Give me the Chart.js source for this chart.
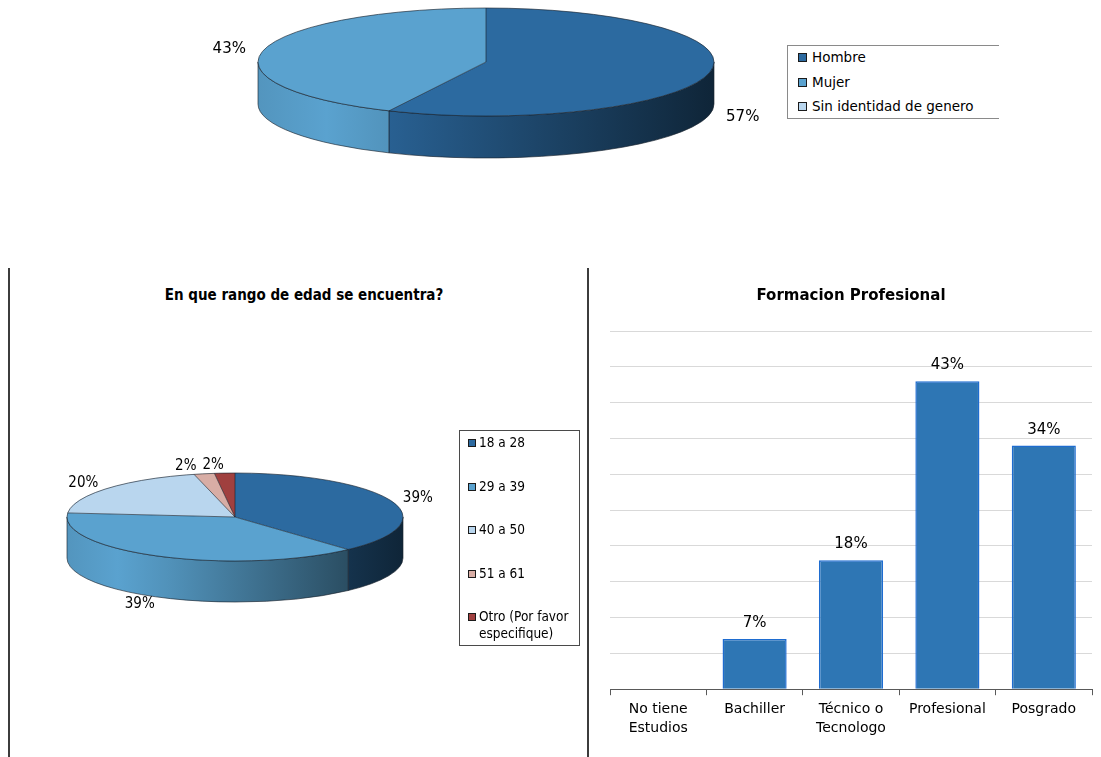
<!DOCTYPE html>
<html>
<head>
<meta charset="utf-8">
<script src="https://cdn.jsdelivr.net/npm/chart.js@4.4.1/dist/chart.umd.min.js"></script>
<style>
html, body { margin: 0; padding: 0; background: #fff; overflow: hidden; }
body { width: 1101px; height: 757px; position: relative; font-family: "DejaVu Sans", Verdana, sans-serif; }
canvas { position: absolute; }
.sep { position: absolute; top: 268px; width: 2px; height: 489px; background: #3c3c3c; }
.legend { position: absolute; background: #fff; box-sizing: border-box; }
.legend .row { position: absolute; display: flex; align-items: flex-start; }
.legend .sw { flex: none; box-sizing: border-box; border: 1px solid #1b1b1b; }
#generoLegend { left: 787px; top: 45px; width: 212px; height: 74px; border: 1px solid #8a8a8a; border-right: none; font-size: 13.5px; }
#generoLegend .row { left: 10px; line-height: 18px; }
#generoLegend .sw { width: 9px; height: 9px; margin: 5px 5px 0 0; }
#edadLegend { left: 459px; top: 430px; width: 121px; height: 216px; border: 1px solid #4a4a4a; font-family: "DejaVu Sans Condensed", "DejaVu Sans", sans-serif; font-size: 13.5px; }
#edadLegend .row { left: 8px; line-height: 17px; }
#edadLegend .sw { width: 8px; height: 8px; margin: 5px 3px 0 0; }
#edadLegend .tx { width: 104px; }
#edadTitle { position: absolute; left: 104px; width: 400px; top: 286px; text-align: center; font-family: "DejaVu Sans Condensed", "DejaVu Sans", sans-serif; font-weight: bold; font-size: 15px; }
</style>
</head>
<body>
<canvas id="generoChart" width="980" height="230" style="left:0;top:0"></canvas>
<div class="legend" id="generoLegend"></div>

<div class="sep" style="left:8px"></div>
<div class="sep" style="left:587px"></div>

<div id="edadTitle">En que rango de edad se encuentra?</div>
<canvas id="edadChart" width="470" height="240" style="left:0;top:400px"></canvas>
<div class="legend" id="edadLegend"></div>

<canvas id="formacionChart" width="506" height="489" style="left:595px;top:268px"></canvas>

<script>
// Genero
var generoLabels = ['Hombre', 'Mujer', 'Sin identidad de genero'];
var generoValues = [57, 43, 0];
var generoColors = ['#2C6AA0', '#5AA2CF', '#B9D6EE'];

// Rango de edad
var edadLabels = ['18 a 28', '29 a 39', '40 a 50', '51 a 61', 'Otro (Por favor especifique)'];
var edadValues = [39, 39, 20, 2, 2];
var edadColors = ['#2C6AA0', '#5AA2CF', '#B9D6EE', '#D8ADA5', '#A0403F'];

// Formacion profesional
var formacionLabels = [['No tiene', 'Estudios'], 'Bachiller', ['Técnico o', 'Tecnologo'], 'Profesional', 'Posgrado'];
var formacionValues = [0, 7, 18, 43, 34];

Chart.defaults.font.family = '"DejaVu Sans", Verdana, sans-serif';
Chart.defaults.color = '#000';

function shade(hex, f) {
    var n = parseInt(hex.slice(1), 16);
    var r = Math.round(((n >> 16) & 255) * f);
    var g = Math.round(((n >> 8) & 255) * f);
    var b = Math.round((n & 255) * f);
    return 'rgb(' + r + ',' + g + ',' + b + ')';
}

// tilted pie: side walls under the slices, flattened top face, labels outside
var pie3d = {
    id: 'pie3d',
    beforeDatasetsDraw: function (chart, args, opts) {
        var ctx = chart.ctx;
        var arcs = chart.getDatasetMeta(0).data;
        var colors = chart.data.datasets[0].backgroundColor;
        var cx = arcs[0].x, cy = arcs[0].y, rx = arcs[0].outerRadius, ry = rx * opts.tilt;

        arcs.forEach(function (arc, i) {
            var s = Math.max(arc.startAngle, 0), e = Math.min(arc.endAngle, Math.PI);
            if (e - s <= 0) {
                return;
            }
            var grad = ctx.createLinearGradient(cx - rx, 0, cx + rx, 0);
            grad.addColorStop(0, shade(colors[i], 0.92));
            grad.addColorStop(0.15, shade(colors[i], 1));
            grad.addColorStop(0.3, shade(colors[i], 0.9));
            grad.addColorStop(1, shade(colors[i], 0.35));
            ctx.beginPath();
            ctx.ellipse(cx, cy, rx, ry, 0, s, e);
            ctx.ellipse(cx, cy + opts.depth, rx, ry, 0, e, s, true);
            ctx.closePath();
            ctx.fillStyle = grad;
            ctx.fill();
            ctx.lineWidth = 0.8;
            ctx.strokeStyle = opts.edge;
            ctx.stroke();
        });

        ctx.save();
        ctx.translate(cx, cy);
        ctx.scale(1, opts.tilt);
        ctx.translate(-cx, -cy);
    },
    afterDatasetsDraw: function (chart, args, opts) {
        var ctx = chart.ctx;
        ctx.restore();

        var arcs = chart.getDatasetMeta(0).data;
        var values = chart.data.datasets[0].data;
        var cx = arcs[0].x, cy = arcs[0].y, rx = arcs[0].outerRadius, ry = rx * opts.tilt;

        ctx.save();
        ctx.lineWidth = 0.8;
        ctx.strokeStyle = opts.edge;
        ctx.beginPath();
        ctx.ellipse(cx, cy, rx, ry, 0, 0, 2 * Math.PI);
        arcs.forEach(function (arc) {
            if (arc.circumference > 0) {
                ctx.moveTo(cx, cy);
                ctx.lineTo(cx + rx * Math.cos(arc.startAngle), cy + ry * Math.sin(arc.startAngle));
            }
        });
        ctx.stroke();

        // label boxes, pushed apart sideways when two of them touch
        ctx.font = opts.font;
        var boxes = [];
        arcs.forEach(function (arc, i) {
            if (!values[i]) {
                return;
            }
            var mid = (arc.startAngle + arc.endAngle) / 2;
            var c = Math.cos(mid), s = Math.sin(mid);
            var text = values[i] + '%';
            var w = ctx.measureText(text).width;
            var ax = cx + (rx + opts.gap) * c;
            var left = c > 0.05 ? ax : (c < -0.05 ? ax - w : ax - w / 2);
            boxes.push({
                text: text,
                left: left,
                w: w,
                y: cy + (ry + opts.gapY) * s + (s > 0 ? opts.depth : 0),
                dir: c < 0 ? -1 : 1
            });
        });
        for (var i = boxes.length - 2; i >= 0; i--) {
            var a = boxes[i], b = boxes[i + 1];
            if (Math.abs(a.y - b.y) < 14 && a.dir < 0 && a.left + a.w + 6 > b.left) {
                a.left = b.left - 6 - a.w;
            }
        }

        ctx.fillStyle = '#000';
        ctx.textBaseline = 'middle';
        ctx.textAlign = 'left';
        boxes.forEach(function (b) {
            ctx.fillText(b.text, b.left, b.y);
        });
        ctx.restore();
    }
};

var barValues = {
    id: 'barValues',
    afterDatasetsDraw: function (chart) {
        var ctx = chart.ctx;
        var data = chart.data.datasets[0].data;
        ctx.save();
        ctx.font = '15px "DejaVu Sans", Verdana, sans-serif';
        ctx.fillStyle = '#000';
        ctx.textAlign = 'center';
        ctx.textBaseline = 'middle';
        chart.getDatasetMeta(0).data.forEach(function (bar, i) {
            if (data[i] > 0) {
                ctx.fillText(data[i] + '%', bar.x, bar.y - 16);
            }
        });
        ctx.restore();
    }
};

function build_legend(id, labels, colors, first, step) {
    var box = document.getElementById(id);
    labels.forEach(function (label, i) {
        var row = document.createElement('div');
        row.className = 'row';
        row.style.top = (first + i * step) + 'px';
        row.innerHTML = '<span class="sw" style="background:' + colors[i] + '"></span><span class="tx">' + label + '</span>';
        box.appendChild(row);
    });
}

function plot_pie(id, labels, values, colors, radius, padding, pieOpts) {
    return new Chart(document.getElementById(id), {
        type: 'pie',
        data: {
            labels: labels,
            datasets: [{
                data: values,
                backgroundColor: colors,
                borderWidth: 0,
                radius: radius,
                clip: false
            }]
        },
        options: {
            responsive: false,
            animation: false,
            events: [],
            layout: { padding: padding },
            plugins: {
                legend: { display: false },
                tooltip: { enabled: false },
                pie3d: pieOpts
            }
        },
        plugins: [pie3d]
    });
}

function plot_formacion(labels, values) {
    return new Chart(document.getElementById('formacionChart'), {
        type: 'bar',
        data: {
            labels: labels,
            datasets: [{
                data: values,
                backgroundColor: '#2E76B4',
                borderColor: '#1E6CD0',
                borderWidth: 1.5,
                barPercentage: 0.665,
                categoryPercentage: 1
            }]
        },
        options: {
            responsive: false,
            animation: false,
            events: [],
            layout: { padding: { left: 15, right: 9, bottom: 14 } },
            scales: {
                x: {
                    grid: { drawOnChartArea: false, drawTicks: true, tickLength: 6, color: '#595959' },
                    border: { color: '#595959', width: 1 },
                    ticks: {
                        font: { size: 14, lineHeight: 1.35 },
                        color: '#000',
                        maxRotation: 0,
                        autoSkip: false,
                        padding: 5
                    }
                },
                y: {
                    min: 0,
                    max: 50,
                    ticks: { display: false, stepSize: 5 },
                    grid: { color: '#d9d9d9', drawTicks: false },
                    border: { display: false }
                }
            },
            plugins: {
                legend: { display: false },
                tooltip: { enabled: false },
                title: {
                    display: true,
                    text: 'Formacion Profesional',
                    font: { size: 15, weight: 'bold' },
                    color: '#000',
                    padding: { top: 19, bottom: 26 }
                }
            }
        },
        plugins: [barValues]
    });
}

plot_pie('generoChart', generoLabels, generoValues, generoColors, 228,
    { left: 0, right: 8, top: 0, bottom: 106 },
    { tilt: 54 / 228, depth: 42, gap: 18, gapY: 4, edge: 'rgba(25,35,45,0.8)', font: '15px "DejaVu Sans", Verdana, sans-serif' });
build_legend('generoLegend', generoLabels, generoColors, 2, 24.5);

plot_pie('edadChart', edadLabels, edadValues, edadColors, 168,
    { left: 0, right: 0, top: 0, bottom: 6 },
    { tilt: 44 / 168, depth: 41, gap: 12, gapY: 8, edge: 'rgba(25,35,45,0.8)', font: '15px "DejaVu Sans Condensed", "DejaVu Sans", sans-serif' });
build_legend('edadLegend', edadLabels, edadColors, 3, 43.5);

plot_formacion(formacionLabels, formacionValues);
</script>
</body>
</html>
